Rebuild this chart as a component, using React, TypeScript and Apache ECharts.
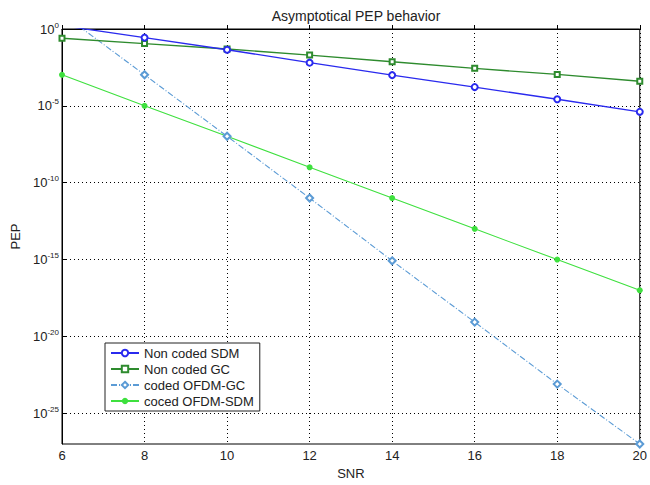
import React, { useEffect, useRef } from "react";
import * as echarts from "echarts";

const snr = [6, 8, 10, 12, 14, 16, 18, 20];
const nonCodedSDM = [1.66, 0.275, 0.0447, 6.46e-3, 1.0e-3, 1.66e-4, 2.69e-5, 4.07e-6];
const nonCodedGC = [0.25, 0.112, 0.05, 0.02, 7.4e-3, 2.75e-3, 1.1e-3, 4.0e-4];
const codedOFDMGC = [10, 1.05e-3, 1.05e-7, 1.0e-11, 8.3e-16, 8.5e-20, 7.9e-24, 1.0e-27];
const codedOFDMSDM = [1.05e-3, 1.0e-5, 1.05e-7, 1.0e-9, 1.0e-11, 1.0e-13, 1.0e-15, 1.0e-17];
const seriesNames = ["Non coded SDM", "Non coded GC", "coded OFDM-GC", "coced OFDM-SDM"];
const yDecadeTicks = [-25, -20, -15, -10, -5];
const yMinDecade = -27;
const yMaxDecade = 0;

const FONT = "'Liberation Sans', Arial, Helvetica, sans-serif";

function pairs(vals: number[]) {
  return snr.map((x, i) => [x, Math.log10(vals[i])]);
}

export default function App() {
  const ref = useRef<HTMLDivElement>(null);
  useEffect(() => {
    if (!ref.current) return;
    const chart = echarts.init(ref.current, null, { renderer: "svg" });
    chart.setOption({
      animation: false,
      backgroundColor: "#fff",
      textStyle: { fontFamily: FONT },
      title: {
        text: "Asymptotical PEP behavior",
        left: 351,
        textAlign: "center",
        top: 4,
        textStyle: { fontFamily: FONT, fontSize: 14, fontWeight: "normal", color: "#222" },
      },
      grid: {
        left: 62,
        right: 9,
        top: 29,
        bottom: 35,
        show: true,
        borderColor: "#000",
        borderWidth: 1,
        backgroundColor: "transparent",
      },
      legend: {
        orient: "vertical",
        left: 105,
        top: 343,
        data: seriesNames,
        backgroundColor: "#fff",
        borderColor: "#222",
        borderWidth: 1,
        borderRadius: 0,
        padding: [3, 6, 3, 5],
        itemGap: 2,
        itemWidth: 28,
        itemHeight: 8,
        textStyle: { fontFamily: FONT, fontSize: 13, color: "#222", lineHeight: 14 },
      },
      xAxis: {
        type: "value",
        min: 6,
        max: 20,
        interval: 2,
        name: "SNR",
        nameLocation: "middle",
        nameGap: 23,
        nameTextStyle: { fontFamily: FONT, fontSize: 13, color: "#222" },
        axisLine: { lineStyle: { color: "#000", width: 1 } },
        axisTick: { inside: true, length: 4, lineStyle: { color: "#000" } },
        axisLabel: { fontFamily: FONT, fontSize: 13, color: "#222", margin: 5 },
        splitLine: { show: true, lineStyle: { color: "#000", type: [1, 3], width: 1 } },
      },
      yAxis: {
        type: "value",
        min: yMinDecade,
        max: yMaxDecade,
        interval: 1,
        name: "PEP",
        nameLocation: "middle",
        nameGap: 35,
        nameTextStyle: { fontFamily: FONT, fontSize: 13, color: "#222" },
        axisLine: { lineStyle: { color: "#000", width: 1 } },
        axisTick: {
          show: true,
          inside: true,
          length: 4,
          customValues: [...yDecadeTicks, yMaxDecade],
          lineStyle: { color: "#000" },
        },
        axisLabel: {
          fontFamily: FONT,
          margin: 3,
          formatter: (v: number) => {
            const e = Math.round(v);
            if (e % 5 !== 0) return "";
            return `{b|10}{s|${e === 0 ? 0 : e}}`;
          },
          rich: {
            b: { fontSize: 13, color: "#222", fontFamily: FONT },
            s: { fontSize: 8, color: "#222", fontFamily: FONT, padding: [0, 0, 8, 0] },
          },
        },
        splitLine: { show: false },
      },
      series: [
        {
          name: seriesNames[0],
          type: "line",
          data: pairs(nonCodedSDM),
          symbol: "emptyCircle",
          symbolSize: 6,
          color: "#2a2aee",
          lineStyle: { width: 1.3, color: "#2a2aee" },
          itemStyle: { color: "#2a2aee", borderWidth: 1 },
          clip: true,
          z: 5,
          markLine: {
            silent: true,
            symbol: "none",
            label: { show: false },
            lineStyle: { color: "#000", type: [1, 3], width: 1 },
            data: yDecadeTicks.map((d) => ({ yAxis: d })),
            z: 1,
          },
        },
        {
          name: seriesNames[1],
          type: "line",
          data: pairs(nonCodedGC),
          symbol: "emptyRect",
          symbolSize: 5,
          color: "#2e8b2e",
          lineStyle: { width: 1.3, color: "#2e8b2e" },
          itemStyle: { color: "#2e8b2e", borderWidth: 1 },
          clip: true,
          z: 4,
        },
        {
          name: seriesNames[2],
          type: "line",
          data: pairs(codedOFDMGC),
          symbol: "emptyDiamond",
          symbolSize: 7,
          color: "#5b9bd5",
          lineStyle: { width: 1.1, color: "#5b9bd5", type: [6, 2, 1, 2] },
          itemStyle: { color: "#5b9bd5", borderWidth: 1 },
          clip: true,
          z: 3,
        },
        {
          name: seriesNames[3],
          type: "line",
          data: pairs(codedOFDMSDM),
          symbol: "circle",
          symbolSize: 6,
          color: "#3ee03e",
          lineStyle: { width: 1.1, color: "#3ee03e" },
          itemStyle: { color: "#3ee03e" },
          clip: true,
          z: 2,
        },
      ],
    });
    return () => chart.dispose();
  }, []);
  return <div ref={ref} style={{ width: 650, height: 485, position: "absolute", left: 0, top: 0 }} />;
}
